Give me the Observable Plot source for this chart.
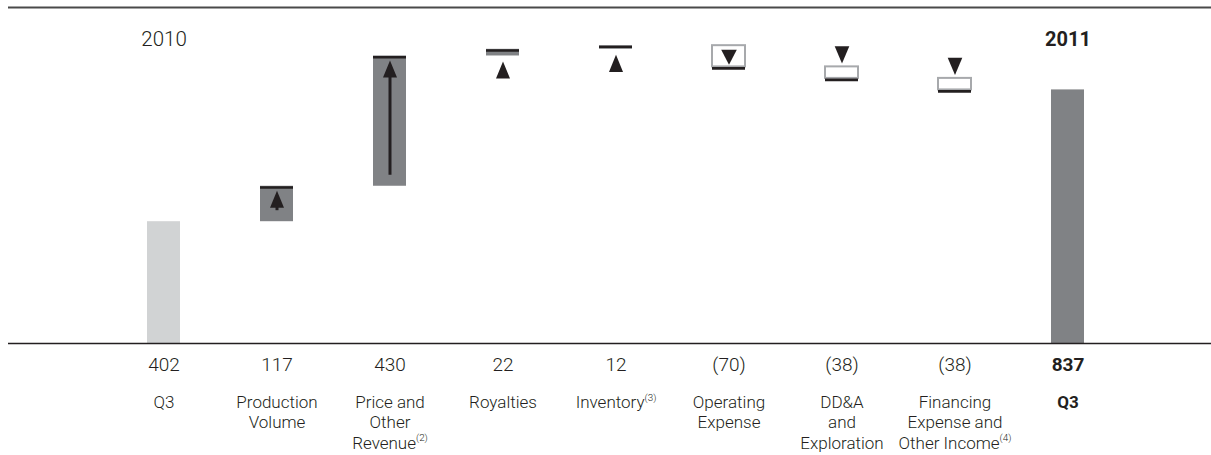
<!DOCTYPE html>
<html>
<head>
<meta charset="utf-8">
<script src="https://cdn.jsdelivr.net/npm/d3@7"></script>
<script src="https://cdn.jsdelivr.net/npm/@observablehq/plot@0.6"></script>
<style>
  html, body { margin: 0; padding: 0; background: #fff; }
  #chart svg { display: block; }
</style>
</head>
<body>
<div id="chart"></div>
<script>
// ---- data ----
const categories = ["Q3 2010", "Production Volume", "Price and Other Revenue", "Royalties", "Inventory",
  "Operating Expense", "DD&A and Exploration", "Financing Expense and Other Income", "Q3 2011"];
const categoryLabels = ["Q3", "Production\nVolume", "Price and\nOther\nRevenue^(2)", "Royalties", "Inventory^(3)",
  "Operating\nExpense", "DD&A\nand\nExploration", "Financing\nExpense and\nOther Income^(4)", "Q3"];
const values = [402, 117, 430, 22, 12, -70, -38, -38, 837];
const valueLabels = ["402", "117", "430", "22", "12", "(70)", "(38)", "(38)", "837"];
const periodLabels = ["2010", "2011"];

// ---- waterfall table ----
let run = 0;
const rows = categories.map((key, i) => {
  const total = i === 0 || i === categories.length - 1;
  const v = values[i];
  let start, end;
  if (total) { start = 0; end = v; run = v; }
  else { start = run; end = run + v; run = end; }
  return {key, i, label: categoryLabels[i], valueLabel: valueLabels[i], v, start, end,
    total, up: v > 0, mid: (start + end) / 2, mag: Math.abs(v)};
});
const last = categories.length - 1;
const totals = rows.filter(d => d.total);
const ups = rows.filter(d => !d.total && d.up);
const downs = rows.filter(d => !d.total && !d.up);
const periods = [{key: categories[0], label: periodLabels[0]}, {key: categories[last], label: periodLabels[1]}];

// triangle symbols
function tri(dir, aspect) {
  return {draw(ctx, size) {
    const r = Math.sqrt(size / Math.PI), h = r * aspect;
    if (dir > 0) { ctx.moveTo(0, -h / 2); ctx.lineTo(r, h / 2); ctx.lineTo(-r, h / 2); }
    else { ctx.moveTo(-r, -h / 2); ctx.lineTo(r, -h / 2); ctx.lineTo(0, h / 2); }
    ctx.closePath();
  }};
}
const upTri = tri(1, 2.45), downTri = tri(-1, 2.35), downTriSmall = tri(-1, 1.9);

const ink = "#231f20", dark = "#808285", light = "#d1d3d4", outline = "#a7a9ac";
const font = "Roboto, 'Open Sans', sans-serif";
const yTop = 1109;

const chart = Plot.plot({
  width: 1211,
  height: 455,
  marginTop: 7,
  marginBottom: 112,
  marginLeft: 8,
  marginRight: 0,
  style: {fontFamily: font, background: "#fff"},
  x: {type: "band", domain: categories, range: [104.25, 1125.75], paddingInner: 0.709, paddingOuter: 0.3545, align: 0.5, axis: null},
  y: {domain: [0, yTop], axis: null},
  marks: [
    Plot.ruleY([yTop], {stroke: "#4a4a4a", strokeWidth: 1.8}),
    // totals
    Plot.barY(totals, {x: "key", y1: "start", y2: "end", fill: d => d.i === 0 ? light : dark}),
    // increases
    Plot.barY(ups, {x: "key", y1: "start", y2: "end", fill: dark}),
    Plot.tickY(ups, {x: "key", y: "end", stroke: ink, strokeWidth: 2.4, dy: 1.2}),
    // decreases
    Plot.barY(downs, {x: "key", y1: "end", y2: "start", fill: "#fff", stroke: outline, strokeWidth: 2}),
    Plot.tickY(downs, {x: "key", y: "end", stroke: ink, strokeWidth: 2.6, dy: 1.5}),
    // arrows inside large increases (stem + head)
    Plot.ruleX(ups.filter(d => d.mag >= 100), {x: "key", y1: "end", y2: "start", stroke: ink, strokeWidth: 3, insetTop: 18, insetBottom: 11}),
    Plot.dot(ups.filter(d => d.mag >= 100), {x: "key", y: "end", symbol: upTri, r: 7, fill: ink, stroke: "none", dy: 13}),
    // small increases: triangle below
    Plot.dot(ups.filter(d => d.mag < 50), {x: "key", y: "start", symbol: upTri, r: 7, fill: ink, stroke: "none", dy: 14}),
    // medium decreases: triangle inside
    Plot.dot(downs.filter(d => d.mag >= 50), {x: "key", y: "mid", symbol: downTriSmall, r: 7.8, fill: ink, stroke: "none", dy: 1}),
    // small decreases: triangle above
    Plot.dot(downs.filter(d => d.mag < 50), {x: "key", y: "start", symbol: downTri, r: 7.3, fill: ink, stroke: "none", dy: -12}),
    // baseline
    Plot.ruleY([0], {stroke: ink, strokeWidth: 1.7}),
    // period labels
    Plot.text(periods.slice(0, 1), {x: "key", text: "label", frameAnchor: "top", lineAnchor: "bottom", dy: 38, fontSize: 20.5, fill: ink, fontWeight: 300}),
    Plot.text(periods.slice(1), {x: "key", text: "label", frameAnchor: "top", lineAnchor: "bottom", dy: 38, fontSize: 20, fill: ink, fontWeight: 700}),
    // value labels
    Plot.text(rows.filter(d => d.i !== last), {x: "key", text: "valueLabel", frameAnchor: "bottom", lineAnchor: "top", dy: 14, fontSize: 19, fill: ink, fontWeight: 300}),
    Plot.text(rows.filter(d => d.i === last), {x: "key", text: "valueLabel", frameAnchor: "bottom", lineAnchor: "top", dy: 14, fontSize: 19, fill: ink, fontWeight: 700}),
    // category labels
    Plot.text(rows.filter(d => d.i !== last), {x: "key", text: "label", frameAnchor: "bottom", lineAnchor: "top", dy: 50, fontSize: 17, lineHeight: 1.2, fill: ink, fontWeight: 300}),
    Plot.text(rows.filter(d => d.i === last), {x: "key", text: "label", frameAnchor: "bottom", lineAnchor: "top", dy: 50, fontSize: 17, lineHeight: 1.2, fill: ink, fontWeight: 700})
  ]
});

// superscripts (footnote markers)
chart.querySelectorAll("text, tspan").forEach(el => {
  if (el.childNodes.length === 1 && el.firstChild.nodeType === 3 && el.textContent.includes("^")) {
    const [main, sup] = el.textContent.split("^");
    el.textContent = main;
    const t = document.createElementNS("http://www.w3.org/2000/svg", "tspan");
    t.setAttribute("font-size", "0.58em");
    t.setAttribute("dy", "-0.75em");
    t.textContent = sup;
    el.appendChild(t);
  }
});

document.getElementById("chart").appendChild(chart);
</script>
</body>
</html>
